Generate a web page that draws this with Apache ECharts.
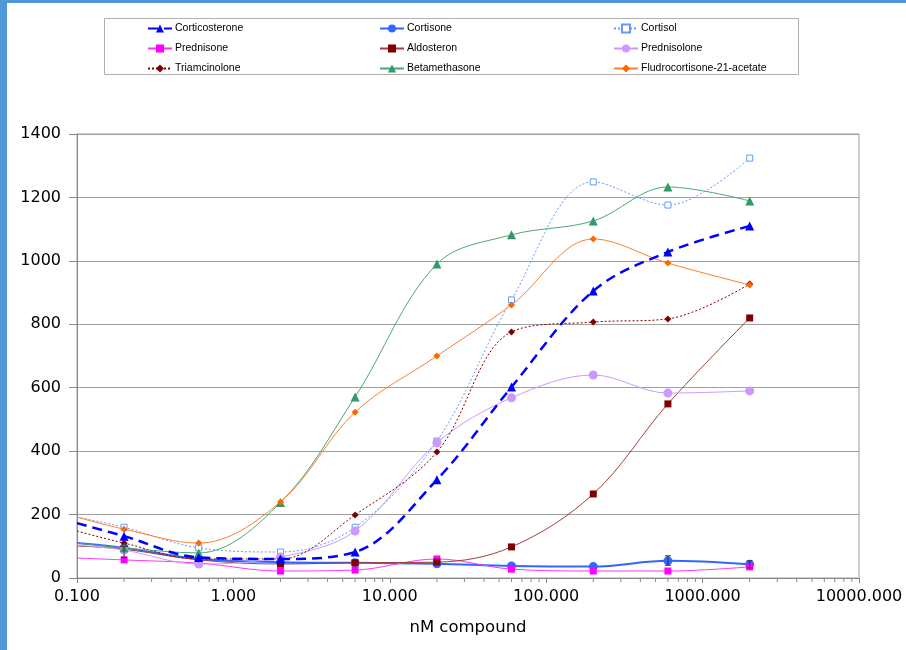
<!DOCTYPE html>
<html><head><meta charset="utf-8">
<script src="https://cdn.jsdelivr.net/npm/echarts@6/dist/echarts.min.js"></script>
<style>html,body{margin:0;padding:0;background:#fff}#c{width:906px;height:650px}</style>
</head><body><div id="c"></div>
<script>
// x values (nM); first entry is the left-edge (axis min) continuation point
const xs = [0.1, 0.2, 0.6, 2, 6, 20, 60, 200, 600, 2000];
const corticosterone = [173, 132, 65, 60, 82, 310, 602, 905, 1028, 1110];
const cortisone      = [110, 95, 60, 50, 48, 45, 38, 36, 54, 43];
const cortisol       = [192, 160, 95, 82, 160, 432, 877, 1249, 1176, 1324];
const prednisone     = [63, 57, 47, 22, 25, 60, 28, 22, 22, 35];
const aldosteron     = [101, 91, 57, 44, 48, 50, 98, 265, 549, 820];
const prednisolone   = [104, 88, 44, 66, 148, 426, 568, 640, 583, 590];
const triamcinolone  = [148, 110, 60, 60, 199, 397, 776, 807, 817, 927];
const betamethasone  = [110, 95, 79, 238, 571, 990, 1082, 1126, 1233, 1189];
const fludro         = [192, 154, 110, 240, 523, 700, 861, 1069, 993, 924];
// cortisone error bars: [x, low, high]
const cortisoneErr = [[0.2, 65, 100], [600, 40, 70], [2000, 32, 54]];
const xTickLabels = ['0.100','1.000','10.000','100.000','1000.000','10000.000'];
const yTicks = [0,200,400,600,800,1000,1200,1400];
const minorTicks = [];
[0.1,1,10,100,1000].forEach(d=>{for(let k=2;k<=9;k++)minorTicks.push(+(d*k).toPrecision(3));});

const AXFONT = '"DejaVu Sans", sans-serif';
const LGFONT = '"Liberation Sans", Arial, sans-serif';
function mk(arr){ return arr.map((v,i)=> i===0 ? {value:[xs[i],v], symbol:'none'} : [xs[i],v]); }
function ser(name, arr, color, lineColor, symbol, size, type, width, extra){
  return Object.assign({
    name, type:'line', data: mk(arr), smooth:0.35, symbol, symbolSize:size,
    itemStyle:{color: color}, lineStyle:{color: lineColor, width, type},
    emphasis:{disabled:true}, z:3, clip:true
  }, extra||{});
}
const series = [
  ser('Corticosterone', corticosterone, '#0000ff', '#0000ff', 'triangle', 9, [10,6], 2.5, {z:5}),
  ser('Cortisone', cortisone, '#3366ff', '#3366ff', 'circle', 9, 'solid', 2),
  ser('Cortisol', cortisol, '#ffffff', '#6699ff', 'rect', 6, [2,2], 1, {itemStyle:{color:'#fff', borderColor:'#6699ff', borderWidth:1}}),
  ser('Prednisone', prednisone, '#ff00ff', '#ff33ff', 'rect', 7, 'solid', 1),
  ser('Aldosteron', aldosteron, '#800000', '#a0403a', 'rect', 7, 'solid', 1),
  ser('Prednisolone', prednisolone, '#cc99ff', '#cc99ff', 'circle', 9, 'solid', 1),
  ser('Triamcinolone', triamcinolone, '#800000', '#800000', 'diamond', 7, [2,2], 1),
  ser('Betamethasone', betamethasone, '#339966', '#4aa878', 'triangle', 9, 'solid', 1),
  ser('Fludrocortisone-21-acetate', fludro, '#ff6600', '#ff7f2a', 'diamond', 7, 'solid', 1),
  {
    type:'custom', name:'err', data: cortisoneErr, z:4, silent:true,
    encode:{x:0, y:[1,2]},
    renderItem(params, api){
      const x = api.value(0);
      const lo = api.coord([x, api.value(1)]), hi = api.coord([x, api.value(2)]);
      const c = {stroke:'#333', lineWidth:1};
      return {type:'group', children:[
        {type:'line', shape:{x1:lo[0],y1:lo[1],x2:hi[0],y2:hi[1]}, style:c},
        {type:'line', shape:{x1:lo[0]-3,y1:lo[1],x2:lo[0]+3,y2:lo[1]}, style:c},
        {type:'line', shape:{x1:hi[0]-3,y1:hi[1],x2:hi[0]+3,y2:hi[1]}, style:c}
      ]};
    }
  },
  {
    type:'custom', name:'minor', data: minorTicks.map(v=>[v,0]), z:1, silent:true, clip:false,
    encode:{x:0, y:1},
    renderItem(params, api){
      const p = api.coord([api.value(0), 0]);
      return {type:'line', shape:{x1:p[0],y1:p[1],x2:p[0],y2:p[1]+4}, style:{stroke:'#888', lineWidth:1}};
    }
  }
];
const legendBase = {orient:'vertical', top:23, padding:0, itemWidth:24, itemHeight:10, itemGap:9,
  textStyle:{fontFamily:LGFONT, fontSize:10.5, color:'#000', padding:[0,0,0,-2]}, selectedMode:false};
const chart = echarts.init(document.getElementById('c'), null, {renderer:'canvas'});
chart.setOption({
  backgroundColor:'#fff',
  animation:false,
  grid:{left:77, right:47, top:134, bottom:72, show:true, borderColor:'#a0a0a0', borderWidth:1},
  legend:[
    Object.assign({left:147, data:['Corticosterone','Prednisone','Triamcinolone']}, legendBase),
    Object.assign({left:379, data:['Cortisone','Aldosteron','Betamethasone']}, legendBase),
    Object.assign({left:613, data:['Cortisol','Prednisolone','Fludrocortisone-21-acetate']}, legendBase)
  ],
  graphic:[
    {type:'rect', left:0, top:0, shape:{width:7, height:650}, style:{fill:'#4f97d6'}, silent:true},
    {type:'rect', left:0, top:0, shape:{width:906, height:3}, style:{fill:'#4f97d6'}, silent:true},
    {type:'rect', shape:{x:104.5, y:18.5, width:694, height:56}, style:{fill:'none', stroke:'#b0b0b0', lineWidth:1}, silent:true, z:-1}
  ],
  xAxis:{
    type:'log', logBase:10, min:0.1, max:10000,
    name:'nM compound', nameLocation:'middle', nameGap:41,
    nameTextStyle:{fontFamily:AXFONT, fontSize:16.5, color:'#000'},
    axisLine:{lineStyle:{color:'#888'}},
    axisTick:{show:true, length:5, lineStyle:{color:'#888'}},
    splitLine:{show:false},
    axisLabel:{fontFamily:AXFONT, fontSize:16, color:'#000', margin:11,
      formatter:(v)=>{const i=Math.round(Math.log10(v))+1; return xTickLabels[i];}}
  },
  yAxis:{
    type:'value', min:0, max:1400, interval:200,
    axisLine:{show:true, lineStyle:{color:'#888'}},
    axisTick:{show:true, length:8, lineStyle:{color:'#888'}},
    splitLine:{show:true, lineStyle:{color:'#a0a0a0', width:1}},
    axisLabel:{fontFamily:AXFONT, fontSize:16, color:'#000', margin:16,
      formatter:(v)=> yTicks.includes(v) ? String(v) : ''}
  },
  series
});
</script></body></html>
